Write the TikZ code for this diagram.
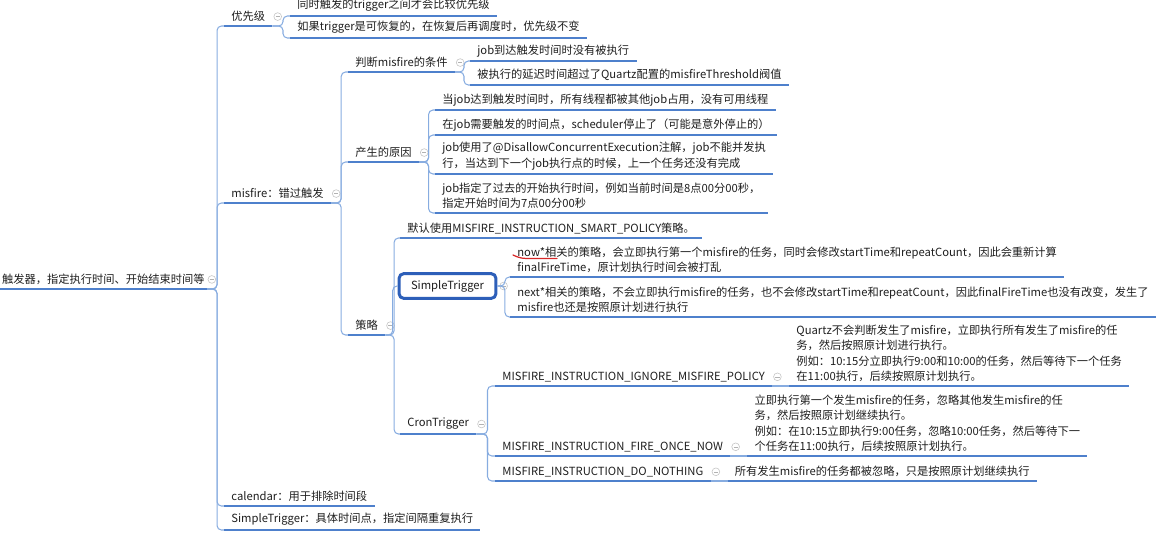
\documentclass[tikz,border=0pt]{standalone}
\usepackage{fontspec}
\setmainfont{Noto Sans CJK SC}
\usepackage{tikz}
\usetikzlibrary{positioning, calc}
\definecolor{lineblue}{RGB}{78, 128, 204}
\definecolor{linkblue}{RGB}{135, 172, 224}
\definecolor{boxblue}{RGB}{45, 95, 185}
\definecolor{textgray}{RGB}{30, 30, 30}
\definecolor{annotred}{RGB}{215, 40, 40}

\tikzset{
  topic/.style={anchor=south west, inner xsep=4pt, inner ysep=2.2pt, text=textgray, align=left},
  uline/.style={draw=lineblue, line width=1.1pt},
  link/.style={draw=linkblue, line width=0.6pt, rounded corners=2.5pt,
    to path={-- ($(\tikztostart)!0.6!(\tikztotarget |- \tikztostart)$) |- (\tikztotarget)}},
  flat/.style={draw=linkblue, line width=0.6pt},
  fold/.style={circle, draw=gray!45, line width=0.35pt, inner sep=0pt, minimum size=4.4pt,
    path picture={\draw[gray!60, line width=0.35pt] ([xshift=1pt]path picture bounding box.west) -- ([xshift=-1pt]path picture bounding box.east);}},
  selbox/.style={draw=boxblue, line width=1.7pt, rounded corners=2.5pt, fill=white,
    minimum width=55pt, minimum height=14pt, inner sep=0pt, text=textgray}
}

\begin{document}
\begin{tikzpicture}[x=0.02cm, y=-0.02cm, font=\fontsize{6.4}{8.8}\selectfont]
\useasboundingbox (0,0) rectangle (1169,532);

% root and first level
\node[topic, inner xsep=1pt] (root) at (0,289) {触发器，指定执行时间、开始结束时间等};
\node[topic] (prio) at (224,26) {优先级};
\node[topic] (misfire) at (224,203) {misfire：错过触发};
\node[topic] (calendar) at (224,506) {calendar：用于排除时间段};
\node[topic] (simple) at (224,530) {SimpleTrigger：具体时间点，指定间隔重复执行};

% priority
\node[topic] (same) at (290,16) {同时触发的trigger之间才会比较优先级};
\node[topic] (resume) at (290,38) {如果trigger是可恢复的，在恢复后再调度时，优先级不变};

% misfire
\node[topic] (cond) at (348,72) {判断misfire的条件};
\node[topic] (cause) at (348,162) {产生的原因};
\node[topic] (policy) at (348,335) {策略};

\node[topic] (condA) at (470,61) {job到达触发时间时没有被执行};
\node[topic] (condB) at (470,85) {被执行的延迟时间超过了Quartz配置的misfireThreshold阀值};

\node[topic] (causeA) at (435,110) {当job达到触发时间时，所有线程都被其他job占用，没有可用线程};
\node[topic] (causeB) at (435,135) {在job需要触发的时间点，scheduler停止了（可能是意外停止的）};
\node[topic] (causeC) at (435,174) {job使用了@DisallowConcurrentExecution注解，job不能并发执\\行，当达到下一个job执行点的时候，上一个任务还没有完成};
\node[topic] (causeD) at (435,213) {job指定了过去的开始执行时间，例如当前时间是8点00分00秒，\\指定开始时间为7点00分00秒};

% policy
\node[topic] (smart) at (400,238) {默认使用MISFIRE\_INSTRUCTION\_SMART\_POLICY策略。};
\node[selbox] (stBox) at (447.5,286) {SimpleTrigger};
\node[topic] (cron) at (400,434) {CronTrigger};

\node[topic] (now) at (510,277) {now*相关的策略，会立即执行第一个misfire的任务，同时会修改startTime和repeatCount，因此会重新计算\\finalFireTime，原计划执行时间会被打乱};
\node[topic] (next) at (510,317) {next*相关的策略，不会立即执行misfire的任务，也不会修改startTime和repeatCount，因此finalFireTime也没有改变，发生了\\misfire也还是按照原计划进行执行};

\node[topic] (ignore) at (495,386) {MISFIRE\_INSTRUCTION\_IGNORE\_MISFIRE\_POLICY};
\node[topic] (once) at (495,456) {MISFIRE\_INSTRUCTION\_FIRE\_ONCE\_NOW};
\node[topic] (nothing) at (495,481) {MISFIRE\_INSTRUCTION\_DO\_NOTHING};

\node[topic] (ignoreTxt) at ([xshift=9.6pt]ignore.south east) {Quartz不会判断发生了misfire，立即执行所有发生了misfire的任\\务，然后按照原计划进行执行。\\例如：10:15分立即执行9:00和10:00的任务，然后等待下一个任务\\在11:00执行，后续按照原计划执行。};
\node[topic] (onceTxt) at ([xshift=9.6pt]once.south east) {立即执行第一个发生misfire的任务，忽略其他发生misfire的任\\务，然后按照原计划继续执行。\\例如：在10:15立即执行9:00任务，忽略10:00任务，然后等待下一\\个任务在11:00执行，后续按照原计划执行。};
\node[topic] (nothingTxt) at ([xshift=9.6pt]nothing.south east) {所有发生misfire的任务都被忽略，只是按照原计划继续执行};

% fold markers
\foreach \n in {root,prio,misfire,cond,cause,policy,cron,ignore,once,nothing}
  \node[fold, right=0.6pt of \n] {};
\node[fold, right=1.2pt of stBox] {};

% connectors
\foreach \c in {prio,misfire,calendar,simple} \draw[link] (root.south east) to (\c.south west);
\foreach \c in {same,resume} \draw[link] (prio.south east) to (\c.south west);
\foreach \c in {cond,cause,policy} \draw[link] (misfire.south east) to (\c.south west);
\foreach \c in {condA,condB} \draw[link] (cond.south east) to (\c.south west);
\foreach \c in {causeA,causeB,causeC,causeD} \draw[link] (cause.south east) to (\c.south west);
\draw[link] (policy.south east) to (smart.south west);
\draw[link] (policy.south east) to (stBox.west);
\draw[link] (policy.south east) to (cron.south west);
\foreach \c in {now,next} \draw[link] (stBox.east) to (\c.south west);
\foreach \c in {ignore,once,nothing} \draw[link] (cron.south east) to (\c.south west);
\draw[flat] (ignore.south east) -- (ignoreTxt.south west);
\draw[flat] (once.south east) -- (onceTxt.south west);
\draw[flat] (nothing.south east) -- (nothingTxt.south west);

% underlines
\foreach \n in {root,prio,misfire,calendar,simple,same,resume,cond,cause,policy,condA,condB,causeA,causeB,causeC,causeD,smart,cron,now,next,ignore,once,nothing,ignoreTxt,onceTxt,nothingTxt}
  \draw[uline] (\n.south west) -- (\n.south east);

% red pen mark
\draw[annotred, line width=0.7pt, line cap=round] (513,255) .. controls (521,258.5) .. (535,258.5) -- (557,258.5);
\end{tikzpicture}
\end{document}
